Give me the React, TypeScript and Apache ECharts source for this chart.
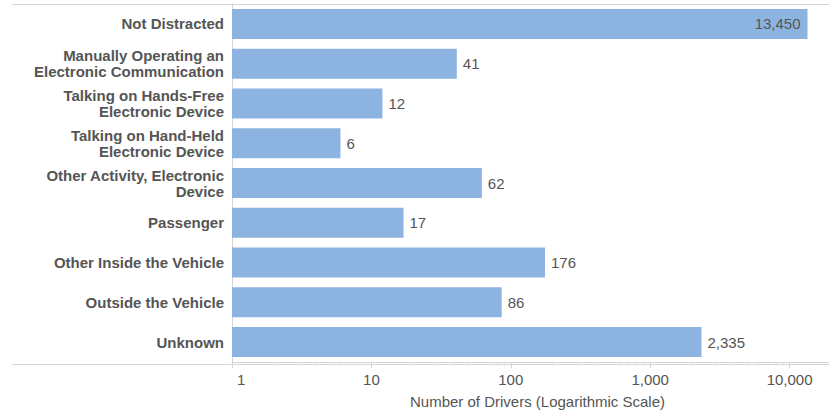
import React, { useEffect, useRef } from "react";
import * as echarts from "echarts";

const categories = [
  "Not Distracted",
  "Manually Operating an\nElectronic Communication",
  "Talking on Hands-Free\nElectronic Device",
  "Talking on Hand-Held\nElectronic Device",
  "Other Activity, Electronic\nDevice",
  "Passenger",
  "Other Inside the Vehicle",
  "Outside the Vehicle",
  "Unknown",
];
const values = [13450, 41, 12, 6, 62, 17, 176, 86, 2335];
const minorTickValues = [
  2, 3, 4, 5, 6, 7, 8, 9,
  20, 30, 40, 50, 60, 70, 80, 90,
  200, 300, 400, 500, 600, 700, 800, 900,
  2000, 3000, 4000, 5000, 6000, 7000, 8000, 9000,
];
const axisName = "Number of Drivers (Logarithmic Scale)";

const FONT = "'Liberation Sans', Arial, sans-serif";
const TEXT = "#555555";
const LINE = "#d4d4d4";

export default function App() {
  const ref = useRef<HTMLDivElement>(null);
  useEffect(() => {
    document.body.style.margin = "0";
    if (!ref.current) return;
    const chart = echarts.init(ref.current, undefined, { renderer: "svg" });
    const maxVal = Math.max(...values);
    const fmt = (v: number) => Math.round(v).toLocaleString("en-US");
    chart.setOption({
      animation: false,
      textStyle: { fontFamily: FONT },
      grid: { left: 232, right: 0, top: 4, bottom: 50, containLabel: false },
      xAxis: {
        type: "log",
        logBase: 10,
        min: 1,
        max: 19180,
        axisLine: { show: true, lineStyle: { color: LINE, width: 1 } },
        axisTick: { show: true, length: 6, lineStyle: { color: LINE } },
        splitLine: { show: false },
        axisLabel: {
          color: TEXT,
          fontSize: 15,
          fontFamily: FONT,
          margin: 10,
          showMaxLabel: false,
          alignMinLabel: "left",
          formatter: (v: number) =>
            Math.round(v) === 1 ? "{first|" + fmt(v) + "}" : fmt(v),
          rich: {
            first: {
              color: TEXT,
              fontSize: 15,
              fontFamily: FONT,
              padding: [0, 0, 0, 5],
            },
          },
        },
        name: axisName,
        nameLocation: "middle",
        nameGap: 32,
        nameTextStyle: {
          color: TEXT,
          fontSize: 15,
          fontFamily: FONT,
          padding: [0, 0, 0, 14],
        },
      },
      yAxis: [
        {
          type: "category",
          data: categories,
          inverse: true,
          axisLine: { show: true, lineStyle: { color: LINE, width: 1 } },
          axisTick: { show: false },
          axisLabel: {
            color: TEXT,
            fontSize: 15,
            fontWeight: "bold",
            fontFamily: FONT,
            lineHeight: 16,
            margin: 8,
            align: "right",
          },
        },
        { type: "value", min: 0, max: 1, show: false },
      ],
      graphic: [
        {
          type: "line",
          shape: { x1: 12, y1: 4.5, x2: 829, y2: 4.5 },
          style: { stroke: LINE, lineWidth: 1 },
          silent: true,
        },
        {
          type: "line",
          shape: { x1: 12, y1: 364.5, x2: 829, y2: 364.5 },
          style: { stroke: LINE, lineWidth: 1 },
          silent: true,
        },
      ],
      series: [
        {
          type: "bar",
          yAxisIndex: 0,
          barWidth: 30,
          data: values.map((v) =>
            v === maxVal
              ? { value: v, label: { position: "insideRight", distance: 7 } }
              : v
          ),
          itemStyle: { color: "#8db3e0" },
          label: {
            show: true,
            position: "right",
            distance: 6,
            color: TEXT,
            fontSize: 15,
            fontFamily: FONT,
            formatter: (p: any) => fmt(p.value),
          },
          silent: true,
        },
        {
          type: "scatter",
          yAxisIndex: 1,
          clip: false,
          symbol: "rect",
          symbolSize: [1, 3],
          symbolOffset: [0, 2],
          itemStyle: { color: "#dcdcdc" },
          data: minorTickValues.map((v) => [v, 0]),
          silent: true,
          z: 1,
        },
      ],
    });
    return () => chart.dispose();
  }, []);
  return <div ref={ref} style={{ width: 829, height: 414 }} />;
}
